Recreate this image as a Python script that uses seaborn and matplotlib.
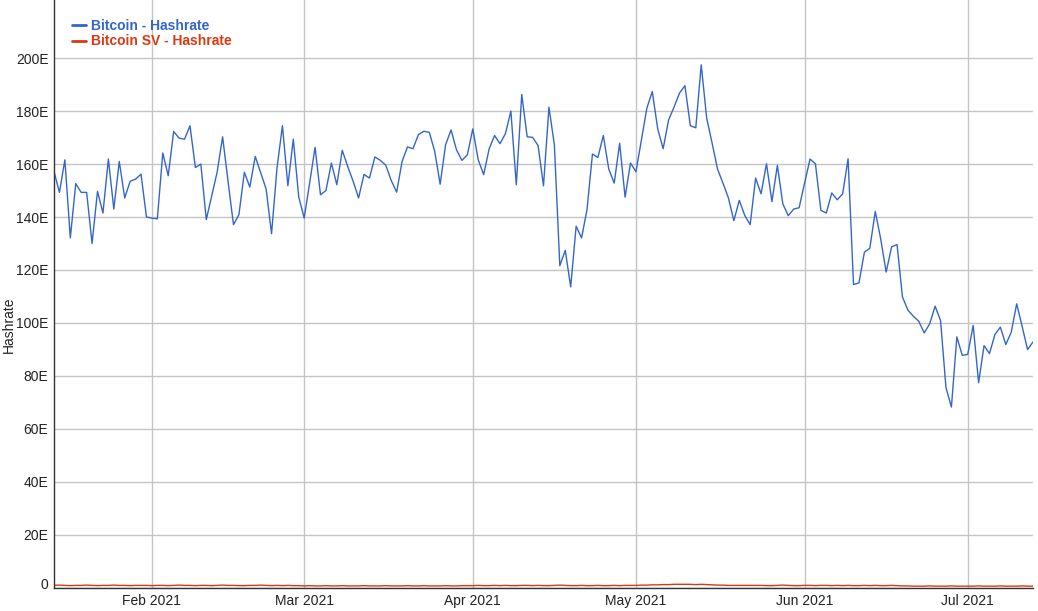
import numpy as np
import pandas as pd
import matplotlib
matplotlib.use("Agg")
import matplotlib.pyplot as plt
import matplotlib.transforms as mtransforms
import seaborn as sns

# ---------------- data ----------------
start_date = "2021-01-14"
end_date = "2021-07-13"
series_names = ["Bitcoin - Hashrate", "Bitcoin SV - Hashrate"]
series_colors = ["#3366cc", "#dc3912"]

btc_hashrate = [
    # Jan 14 - Jan 31
    157.2, 149.3, 161.6, 132.1, 152.6, 149.3, 149.3, 130.0, 149.7, 141.5,
    161.9, 143.0, 161.0, 147.2, 153.5, 154.3, 156.2, 140.0,
    # Feb
    139.6, 139.3, 164.2, 155.6, 172.3, 169.8, 169.4, 174.5, 158.7, 160.0,
    139.0, 148.0, 157.0, 170.3, 153.5, 137.1, 140.9, 156.9, 151.3, 162.9,
    156.7, 150.6, 133.7, 158.5, 174.5, 151.8, 169.4, 147.5,
    # Mar
    139.6, 152.8, 166.3, 148.4, 150.0, 160.4, 152.2, 165.2, 159.1, 153.5,
    147.2, 156.1, 154.7, 162.7, 161.4, 159.6, 153.8, 149.4, 161.0, 166.5,
    165.8, 171.1, 172.4, 172.0, 164.8, 152.4, 167.3, 172.9, 165.4, 161.4, 163.5,
    # Apr
    173.3, 161.6, 156.0, 165.7, 170.8, 167.7, 171.5, 180.0, 152.2, 186.3,
    170.3, 170.1, 167.0, 151.8, 181.5, 167.3, 121.6, 127.4, 113.6, 136.5,
    132.1, 142.8, 163.8, 162.5, 170.8, 158.1, 152.8, 167.9, 147.5, 160.4,
    # May
    157.1, 169.2, 181.1, 187.4, 173.3, 165.8, 176.7, 181.5, 186.8, 189.6,
    174.5, 173.7, 197.5, 177.4, 167.9, 158.1, 152.8, 147.2, 138.6, 146.3,
    140.6, 137.1, 154.7, 148.8, 160.1, 145.8, 159.5, 145.0, 140.5, 143.0, 143.5,
    # Jun
    152.8, 161.9, 160.1, 142.5, 141.5, 149.1, 146.5, 148.7, 162.0, 114.5,
    115.1, 126.7, 128.2, 142.1, 131.7, 119.2, 128.7, 129.6, 109.8, 104.8,
    102.5, 100.6, 96.2, 99.6, 106.3, 100.9, 75.5, 68.2, 94.7, 87.7,
    # Jul 1 - Jul 13
    88.1, 99.0, 77.4, 91.4, 88.4, 95.6, 98.4, 91.8, 96.5, 107.2,
    98.7, 89.9, 92.8,
]

bsv_hashrate = [
    # Jan 14 - Jan 31
    0.8, 0.9, 0.8, 0.7, 0.8, 0.8, 0.9, 0.8, 0.7, 0.8,
    0.8, 0.9, 0.8, 0.8, 0.7, 0.8, 0.8, 0.8,
    # Feb
    0.7, 0.8, 0.8, 0.7, 0.8, 0.9, 0.8, 0.8, 0.7, 0.8,
    0.8, 0.7, 0.8, 0.9, 0.8, 0.8, 0.7, 0.7, 0.8, 0.8,
    0.9, 0.8, 0.7, 0.8, 0.7, 0.8, 0.7, 0.7,
    # Mar
    0.6, 0.7, 0.6, 0.6, 0.7, 0.6, 0.6, 0.7, 0.6, 0.6,
    0.6, 0.7, 0.6, 0.6, 0.6, 0.7, 0.6, 0.6, 0.6, 0.7,
    0.6, 0.6, 0.7, 0.6, 0.6, 0.6, 0.7, 0.6, 0.6, 0.7, 0.7,
    # Apr
    0.7, 0.8, 0.7, 0.7, 0.8, 0.7, 0.8, 0.7, 0.7, 0.8,
    0.8, 0.7, 0.8, 0.7, 0.7, 0.8, 0.9, 0.8, 0.7, 0.7,
    0.8, 0.7, 0.7, 0.8, 0.7, 0.7, 0.8, 0.7, 0.8, 0.8,
    # May
    0.8, 0.9, 0.9, 1.0, 1.0, 1.1, 1.1, 1.2, 1.2, 1.2,
    1.2, 1.1, 1.2, 1.1, 1.0, 0.9, 0.9, 0.8, 0.8, 0.8,
    0.8, 0.8, 0.8, 0.8, 0.7, 0.7, 0.8, 0.9, 0.8, 0.7, 0.7,
    # Jun
    0.8, 0.8, 0.7, 0.8, 0.8, 0.7, 0.8, 0.7, 0.8, 0.7,
    0.7, 0.8, 0.7, 0.8, 0.7, 0.7, 0.8, 0.7, 0.6, 0.6,
    0.5, 0.5, 0.5, 0.6, 0.5, 0.5, 0.5, 0.6, 0.5, 0.5,
    # Jul 1 - Jul 13
    0.5, 0.5, 0.6, 0.5, 0.5, 0.5, 0.6, 0.5, 0.5, 0.5,
    0.6, 0.5, 0.5,
]

y_ticks = [0, 20, 40, 60, 80, 100, 120, 140, 160, 180, 200]
y_tick_labels = ["0", "20E", "40E", "60E", "80E", "100E", "120E",
                 "140E", "160E", "180E", "200E"]
x_tick_dates = ["2021-02-01", "2021-03-01", "2021-04-01",
                "2021-05-01", "2021-06-01", "2021-07-01"]
x_tick_labels = ["Feb 2021", "Mar 2021", "Apr 2021",
                 "May 2021", "Jun 2021", "Jul 2021"]
y_label = "Hashrate"

# ---------------- build table ----------------
dates = pd.date_range(start_date, end_date, freq="D")
df = pd.DataFrame({
    "date": list(dates) + list(dates),
    "hashrate": btc_hashrate + bsv_hashrate,
    "series": [series_names[0]] * len(dates) + [series_names[1]] * len(dates),
})

# ---------------- style ----------------
sns.set_theme(style="white")
plt.rcParams["font.family"] = ["Liberation Sans", "DejaVu Sans"]

W, H = 1038, 611
fig = plt.figure(figsize=(W / 100, H / 100), dpi=100)
ax_left, ax_right, ax_bottom, ax_top = 54, 1033, 587.5, 0
ax = fig.add_axes([ax_left / W, (H - ax_bottom) / H,
                   (ax_right - ax_left) / W, (ax_bottom - ax_top) / H])

sns.lineplot(data=df, x="date", y="hashrate", hue="series",
             hue_order=series_names,
             palette=dict(zip(series_names, series_colors)),
             linewidth=1.0, ax=ax, legend=True)

ax.set_xlim(dates[0], dates[-1])
ax.set_ylim(0, 222)

ax.set_yticks(y_ticks)
ax.set_yticklabels(y_tick_labels)
ax.set_xticks(pd.to_datetime(x_tick_dates))
ax.set_xticklabels(x_tick_labels)

ax.grid(True, color="#c4c4c4", linewidth=1.0)
ax.set_axisbelow(True)
ax.tick_params(axis="both", length=0, labelsize=10, colors="#222222")
ax.tick_params(axis="y", pad=4)
ax.tick_params(axis="x", pad=5)

# the zero label sits slightly above the baseline in the reference
zero_label = ax.get_yticklabels()[0]
zero_label.set_transform(zero_label.get_transform() +
                         mtransforms.ScaledTranslation(0, 4 / 100, fig.dpi_scale_trans))

for s in ["top", "right"]:
    ax.spines[s].set_visible(False)
for s in ["left", "bottom"]:
    ax.spines[s].set_color("#333333")
    ax.spines[s].set_linewidth(1.0)

ax.set_xlabel("")
ax.set_ylabel(y_label, fontsize=10, color="#222222")
ax.yaxis.set_label_coords(-0.0388, 0.447)

handles, labels = ax.get_legend_handles_labels()
leg = ax.legend(handles, labels, loc="upper left",
                bbox_to_anchor=(72 / W, 1 - 19 / H),
                bbox_transform=fig.transFigure,
                frameon=False, prop={"weight": "bold", "size": 10},
                handlelength=1.0, handletextpad=0.35, labelspacing=0.1,
                borderpad=0, borderaxespad=0, labelcolor="linecolor")
for line in leg.get_lines():
    line.set_linewidth(2.0)

fig.savefig("out.png", dpi=100)
